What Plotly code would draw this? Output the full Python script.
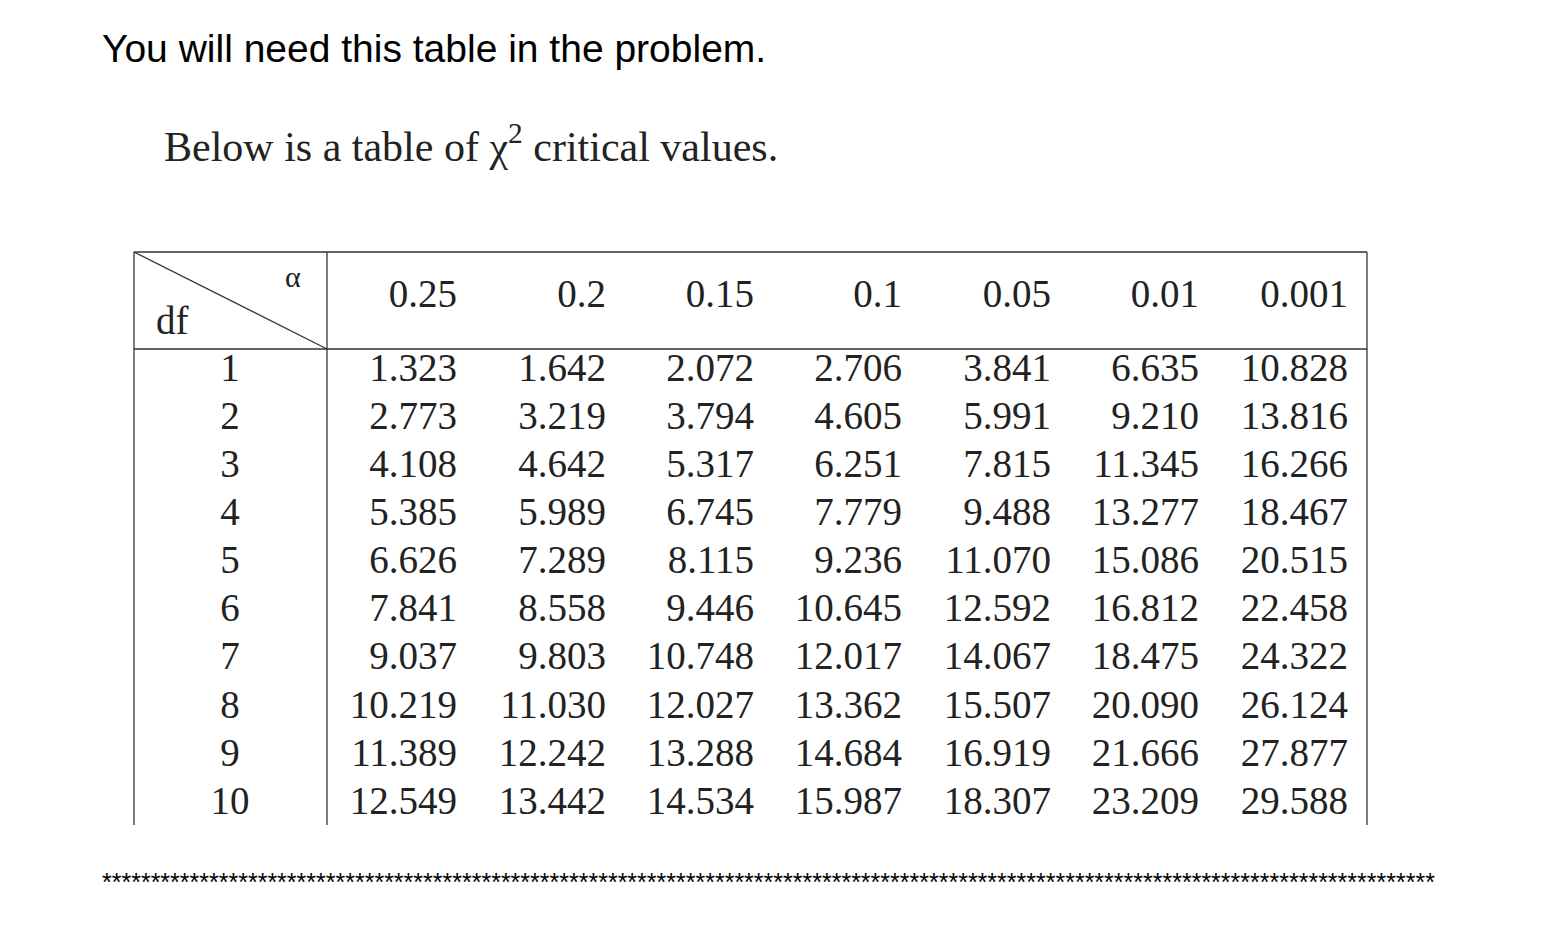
import plotly.graph_objects as go

alphas = ["0.25", "0.2", "0.15", "0.1", "0.05", "0.01", "0.001"]
dfs = ["1", "2", "3", "4", "5", "6", "7", "8", "9", "10"]
values = [
    ["1.323", "1.642", "2.072", "2.706", "3.841", "6.635", "10.828"],
    ["2.773", "3.219", "3.794", "4.605", "5.991", "9.210", "13.816"],
    ["4.108", "4.642", "5.317", "6.251", "7.815", "11.345", "16.266"],
    ["5.385", "5.989", "6.745", "7.779", "9.488", "13.277", "18.467"],
    ["6.626", "7.289", "8.115", "9.236", "11.070", "15.086", "20.515"],
    ["7.841", "8.558", "9.446", "10.645", "12.592", "16.812", "22.458"],
    ["9.037", "9.803", "10.748", "12.017", "14.067", "18.475", "24.322"],
    ["10.219", "11.030", "12.027", "13.362", "15.507", "20.090", "26.124"],
    ["11.389", "12.242", "13.288", "14.684", "16.919", "21.666", "27.877"],
    ["12.549", "13.442", "14.534", "15.987", "18.307", "23.209", "29.588"],
]

D = -8  # page offset correction
col_right = [457, 606, 754, 902, 1051, 1199, 1348]
row_y = [371, 419, 467, 515, 563, 611, 659, 708, 756, 804]
serif = "Liberation Serif"
fs = 39
col = "#222"

fig = go.Figure()
xs, ys, ts = [], [], []
for i, row in enumerate(values):
    for j, v in enumerate(row):
        xs.append(col_right[j] + D); ys.append(row_y[i] + D); ts.append(v)
fig.add_trace(go.Scatter(x=xs, y=ys, text=ts, mode="text", textposition="middle left",
                         textfont=dict(family=serif, size=fs, color=col), hoverinfo="skip"))
fig.add_trace(go.Scatter(x=[c + D for c in col_right], y=[297 + D]*7, text=alphas, mode="text",
                         textposition="middle left",
                         textfont=dict(family=serif, size=fs, color=col), hoverinfo="skip"))
fig.add_trace(go.Scatter(x=[230 + D]*10, y=[r + D for r in row_y], text=dfs, mode="text",
                         textposition="middle center",
                         textfont=dict(family=serif, size=fs, color=col), hoverinfo="skip"))

ann = [
    dict(x=100, y=48, text="You will need this table in the problem.", xanchor="left",
         font=dict(family="Liberation Sans", size=39, color="black")),
    dict(x=162, y=143, text="Below is a table of χ<sup>2</sup> critical values.", xanchor="left",
         font=dict(family=serif, size=42, color=col)),
    dict(x=293, y=276, text="α", xanchor="center", font=dict(family=serif, size=30, color=col)),
    dict(x=172, y=320, text="df", xanchor="center", font=dict(family=serif, size=39, color=col)),
    dict(x=100, y=882, text="*" * 137, xanchor="left",
         font=dict(family="Liberation Sans", size=25, color="black")),
]
for a in ann:
    a["x"] += D; a["y"] += D
    fig.add_annotation(xref="x", yref="y", showarrow=False, yanchor="middle", **a)

ln = dict(color="#333", width=1.3)
for x0, y0, x1, y1 in [(134, 252, 1367, 252), (134, 349, 1367, 349), (134, 252, 134, 825),
                       (1367, 252, 1367, 825), (327, 252, 327, 825), (134, 252, 327, 349)]:
    fig.add_shape(type="line", x0=x0 + D, y0=y0 + D, x1=x1 + D, y1=y1 + D, xref="x", yref="y", line=ln)

fig.update_layout(width=1544, height=936, margin=dict(l=0, r=0, t=0, b=0),
                  plot_bgcolor="white", paper_bgcolor="white", showlegend=False,
                  xaxis=dict(range=[0, 1544], visible=False, fixedrange=True),
                  yaxis=dict(range=[936, 0], visible=False, fixedrange=True))
fig.write_html("out.html")
